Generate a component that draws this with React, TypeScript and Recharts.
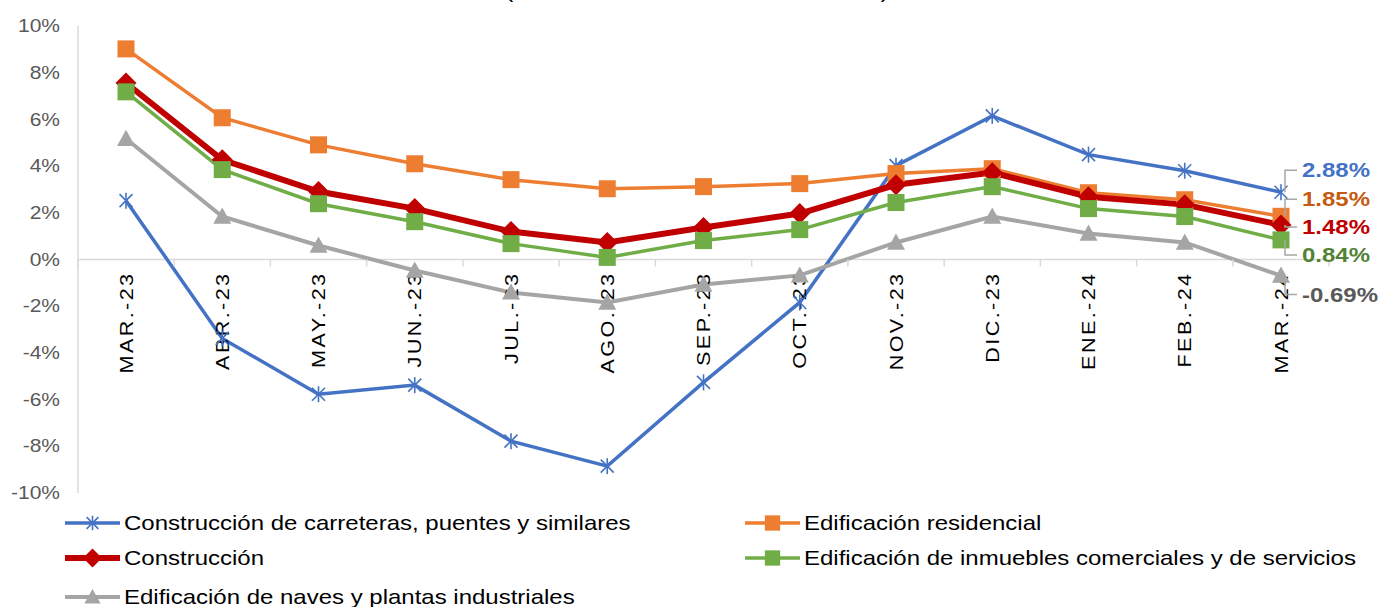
import React from 'react';
import { LineChart, Line, XAxis, YAxis, ReferenceLine, ReferenceDot } from 'recharts';

const months = ['MAR.-23', 'ABR.-23', 'MAY.-23', 'JUN.-23', 'JUL.-23', 'AGO.-23', 'SEP.-23', 'OCT.-23', 'NOV.-23', 'DIC.-23', 'ENE.-24', 'FEB.-24', 'MAR.-24'];
const carreteras = [2.52, -3.38, -5.77, -5.38, -7.78, -8.85, -5.26, -1.84, 4.02, 6.15, 4.49, 3.8, 2.88];
const residencial = [9.02, 6.07, 4.91, 4.1, 3.42, 3.03, 3.12, 3.25, 3.68, 3.89, 2.86, 2.56, 1.85];
const construccion = [7.56, 4.27, 2.91, 2.18, 1.2, 0.73, 1.37, 1.97, 3.2, 3.72, 2.69, 2.35, 1.48];
const comerciales = [7.18, 3.85, 2.39, 1.62, 0.68, 0.09, 0.81, 1.28, 2.44, 3.12, 2.18, 1.84, 0.84];
const naves = [5.17, 1.84, 0.6, -0.47, -1.41, -1.84, -1.07, -0.68, 0.73, 1.84, 1.11, 0.73, -0.69];
const yTicks = [-10, -8, -6, -4, -2, 0, 2, 4, 6, 8, 10];
const title = '(Variación anual en términos reales)';

const names = {
  carreteras: 'Construcción de carreteras, puentes y similares',
  residencial: 'Edificación residencial',
  construccion: 'Construcción',
  comerciales: 'Edificación de inmuebles comerciales y de servicios',
  naves: 'Edificación de naves y plantas industriales',
};

const data = months.map((m, i) => ({
  m,
  carreteras: carreteras[i],
  residencial: residencial[i],
  construccion: construccion[i],
  comerciales: comerciales[i],
  naves: naves[i],
}));

type Kind = 'star' | 'square' | 'diamond' | 'triangle';
const series: { key: keyof typeof names; color: string; labelColor: string; width: number; marker: Kind; labelDy: number }[] = [
  { key: 'carreteras', color: '#4472C4', labelColor: '#4472C4', width: 3.5, marker: 'star', labelDy: -22 },
  { key: 'residencial', color: '#ED7D31', labelColor: '#C55A11', width: 3.5, marker: 'square', labelDy: -17 },
  { key: 'construccion', color: '#C00000', labelColor: '#C00000', width: 6, marker: 'diamond', labelDy: 2 },
  { key: 'comerciales', color: '#70AD47', labelColor: '#548235', width: 3.5, marker: 'square', labelDy: 15 },
  { key: 'naves', color: '#A5A5A5', labelColor: '#595959', width: 4, marker: 'triangle', labelDy: 19 },
];

const FONT = '"Liberation Sans", Arial, sans-serif';
const SX = 1.2;

function Marker({ kind, cx, cy, color, s = 1 }: { kind: Kind; cx: number; cy: number; color: string; s?: number }) {
  if (kind === 'star') {
    const r = 8 * s;
    const d = 6.5 * s;
    return (
      <g stroke={color} strokeWidth={1.6} fill="none">
        <line x1={cx} y1={cy - r} x2={cx} y2={cy + r} />
        <line x1={cx - d} y1={cy - d} x2={cx + d} y2={cy + d} />
        <line x1={cx - d} y1={cy + d} x2={cx + d} y2={cy - d} />
      </g>
    );
  }
  if (kind === 'square') {
    const h = 8.5 * s;
    return <rect x={cx - h} y={cy - h} width={2 * h} height={2 * h} fill={color} />;
  }
  if (kind === 'diamond') {
    const h = 10.5 * s;
    return <polygon points={`${cx},${cy - h} ${cx + h},${cy} ${cx},${cy + h} ${cx - h},${cy}`} fill={color} />;
  }
  const h = 9 * s;
  return <polygon points={`${cx},${cy - h} ${cx + h},${cy + h * 0.8} ${cx - h},${cy + h * 0.8}`} fill={color} />;
}

function YTick(props: any) {
  const { x, y, payload } = props;
  return (
    <text
      transform={`translate(${x},${y}) scale(${SX},1)`}
      textAnchor="end"
      dy="0.35em"
      fontFamily={FONT}
      fontSize={17.5}
      fill="#595959"
    >
      {payload.value}%
    </text>
  );
}

function CatShape(props: any, label: string, last: boolean) {
  const { cx, cy } = props;
  const half = 48.1;
  return (
    <g>
      <line x1={cx - half} y1={cy} x2={cx - half} y2={cy + 7} stroke="#D9D9D9" strokeWidth={1.5} />
      {last && <line x1={cx + half} y1={cy} x2={cx + half} y2={cy + 7} stroke="#D9D9D9" strokeWidth={1.5} />}
      <text
        transform={`translate(${cx + 6.5},${cy + 12}) rotate(-90) scale(${SX},1)`}
        textAnchor="end"
        fontFamily={FONT}
        fontSize={18}
        fill="#000"
        style={{ letterSpacing: '2px' }}
      >
        {label}
      </text>
    </g>
  );
}

function makeEndLabel(cfg: (typeof series)[number]) {
  return (p: any) => {
    const { x, y, value, index } = p;
    if (index !== months.length - 1) return <g key={`el-${index}`} />;
    const ly = y + cfg.labelDy;
    const lx = x + 21;
    return (
      <g key={`el-${index}`}>
        <polyline
          points={`${x + 4},${y} ${x + 4},${ly} ${lx - 5},${ly}`}
          fill="none"
          stroke="#A6A6A6"
          strokeWidth={1.5}
        />
        <text
          transform={`translate(${lx},${ly}) scale(${SX},1)`}
          dy="0.35em"
          fontFamily={FONT}
          fontWeight="bold"
          fontSize={20}
          fill={cfg.labelColor}
        >
          {Number(value).toFixed(2)}%
        </text>
      </g>
    );
  };
}

function Legend() {
  const cols = [65, 745];
  const rows = [523, 558, 597];
  return (
    <svg width={1382} height={607} style={{ position: 'absolute', left: 0, top: 0, pointerEvents: 'none' }}>
      {series.map((s, i) => {
        const x = cols[i % 2];
        const y = rows[Math.floor(i / 2)];
        return (
          <g key={s.key}>
            <line x1={x} y1={y} x2={x + 55} y2={y} stroke={s.color} strokeWidth={s.width} />
            <Marker kind={s.marker} cx={x + 27.5} cy={y} color={s.color} s={0.9} />
            <text
              transform={`translate(${x + 59},${y}) scale(${SX},1)`}
              dy="0.35em"
              fontFamily={FONT}
              fontSize={20}
              fill="#000"
            >
              {names[s.key]}
            </text>
          </g>
        );
      })}
    </svg>
  );
}

export default function App() {
  return (
    <div style={{ position: 'absolute', left: 0, top: 0, width: 1382, height: 607, background: '#fff' }}>
      <svg width={1382} height={607} style={{ position: 'absolute', left: 0, top: 0 }}>
        <text
          transform={`translate(697,-2) scale(${SX},1)`}
          textAnchor="middle"
          fontFamily={FONT}
          fontSize={20}
          fill="#000"
        >
          {title}
        </text>
      </svg>
      <div style={{ position: 'absolute', left: 0, top: 0 }}>
        <LineChart width={1382} height={607} data={data} margin={{ top: 26, right: 53, bottom: 114, left: 0 }}>
          <XAxis dataKey="m" hide padding={{ left: 48, right: 48 }} />
          <YAxis
            width={78}
            domain={[-10, 10]}
            ticks={yTicks}
            interval={0}
            tickLine={false}
            axisLine={{ stroke: '#D9D9D9', strokeWidth: 1.5 }}
            tick={YTick}
            tickMargin={12}
          />
          <ReferenceLine y={0} stroke="#D9D9D9" strokeWidth={1.5} />
          {months.map((m, i) => (
            <ReferenceDot
              key={m}
              x={m}
              y={0}
              r={0}
              shape={(p: any) => CatShape(p, m, i === months.length - 1)}
            />
          ))}
          {series.map((s) => (
            <Line
              key={s.key}
              type="linear"
              dataKey={s.key}
              name={names[s.key]}
              stroke={s.color}
              strokeWidth={s.width}
              isAnimationActive={false}
              dot={(p: any) => (
                <Marker key={`${s.key}-${p.index}`} kind={s.marker} cx={p.cx} cy={p.cy} color={s.color} />
              )}
              activeDot={false}
              label={makeEndLabel(s)}
            />
          ))}
        </LineChart>
      </div>
      <Legend />
    </div>
  );
}
